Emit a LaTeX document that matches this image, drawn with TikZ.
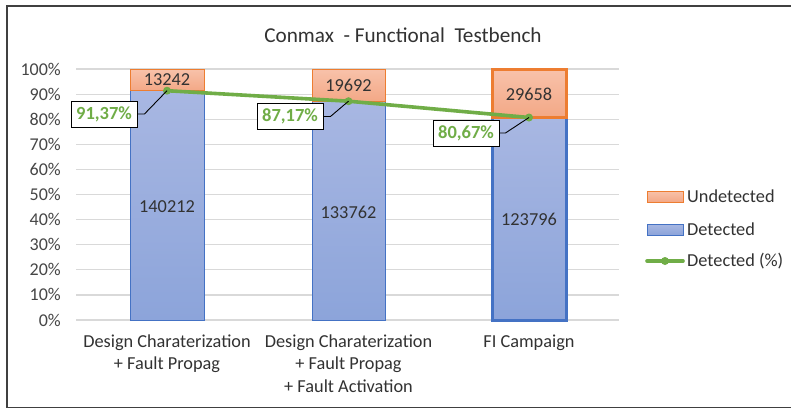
\documentclass[tikz,border=0pt]{standalone}
\usepackage{fontspec}
\setmainfont{Carlito}
\definecolor{undetline}{RGB}{237,125,49}
\definecolor{undettop}{RGB}{248,194,170}
\definecolor{undetbot}{RGB}{243,168,134}
\definecolor{detline}{RGB}{68,114,196}
\definecolor{dettop}{RGB}{168,183,226}
\definecolor{detbot}{RGB}{140,164,218}
\definecolor{ratecol}{RGB}{112,173,71}
\definecolor{gridcol}{RGB}{217,217,217}
\definecolor{txtcol}{RGB}{50,50,50}
\definecolor{axiscol}{RGB}{70,70,70}
\definecolor{framecol}{RGB}{64,64,64}
\begin{document}
\begin{tikzpicture}[x=1pt,y=-1pt,
  lbl/.style={font=\fontsize{18.3}{22.5}\selectfont, text=txtcol, inner sep=0pt},
  axislbl/.style={font=\fontsize{18}{22.5}\selectfont, text=axiscol, inner sep=0pt},
  undetbar/.style={draw=undetline, line width=1pt, top color=undettop, bottom color=undetbot},
  detbar/.style={draw=detline, line width=1pt, top color=dettop, bottom color=detbot},
  ratebox/.style={draw=black, line width=0.9pt, fill=white, font=\bfseries\fontsize{18.5}{20}\selectfont,
    text=ratecol, minimum width=66pt, minimum height=26pt, inner sep=0pt},
  leader/.style={draw=black, line width=0.9pt},
  rateline/.style={draw=ratecol, line width=3.6pt, line cap=round, line join=round},
  ratemark/.style={circle, fill=ratecol, minimum size=8pt, inner sep=0pt}]
\useasboundingbox (0,0) rectangle (791,410);
\fill[white] (0,0) rectangle (791,410);
% chart frame (right side runs past the page edge)
\draw[framecol, line width=1.6pt] (795,6) -- (7,6) -- (7,407.5) -- (795,407.5);

% title
\node[lbl, font=\fontsize{21.2}{24}\selectfont] (title) at (403,35) {Conmax\ \ - Functional\ \ Testbench};

% horizontal grid and value axis
\foreach \p in {0,10,...,100} {
  \draw[gridcol, line width=1.2pt] (76,{320-2.51*\p}) -- (619,{320-2.51*\p});
  \node[axislbl, anchor=east] (tick\p) at (61,{320-2.51*\p}) {\p\%};
}

% stacked bars
\draw[detbar] (130,320) rectangle (204,90.7);
\draw[undetbar] (130,90.7) rectangle (204,69);
\draw[detbar] (312,320) rectangle (385,101.2);
\draw[undetbar] (312,101.2) rectangle (385,69);
\draw[detbar, line width=3pt] (492,320) rectangle (566,117.5);
\draw[undetbar, line width=3pt] (492,117.5) rectangle (566,69);

% bar values
\node[lbl] (u1) at (167,80) {13242};
\node[lbl] (u2) at (348.5,85.5) {19692};
\node[lbl] (u3) at (529,94) {29658};
\node[lbl] (d1) at (167,207) {140212};
\node[lbl] (d2) at (348.5,212) {133762};
\node[lbl] (d3) at (529,219.5) {123796};

% detection rate line
\coordinate (p1) at (167,90.7);
\coordinate (p2) at (348.5,101.2);
\coordinate (p3) at (529,117.5);
\draw[rateline] (p1) -- (p2) -- (p3);
\foreach \i in {1,2,3} \node[ratemark] (m\i) at (p\i) {};

% rate labels with leaders
\node[ratebox] (r1) at (104,114) {91,37\%};
\node[ratebox] (r2) at (290,116.5) {87,17\%};
\node[ratebox] (r3) at (466,133) {80,67\%};
\draw[leader] (r1.east) -- ++(7,0) -- (m1.center);
\draw[leader] (r2.east) -- ++(7,0) -- (m2.center);
\draw[leader] (r3.east) -- ++(6,0) -- (m3.center);

% category labels
\node[lbl, align=center, anchor=north] (c1) at (167,334.5) {Design Charaterization\\+ Fault Propag};
\node[lbl, align=center, anchor=north] (c2) at (348.5,334.5) {Design Charaterization\\+ Fault Propag\\+ Fault Activation};
\node[lbl, anchor=north] (c3) at (529,334.5) {FI Campaign};

% legend
\draw[undetbar] (647,191) rectangle (683,202);
\node[lbl, anchor=west] (lg1) at (687,196.5) {Undetected};
\draw[detbar] (647,224) rectangle (683,235);
\node[lbl, anchor=west] (lg2) at (687,229.5) {Detected};
\coordinate (lga) at (647,261);
\coordinate (lgb) at (683,261);
\draw[rateline] (lga) -- (lgb);
\node[ratemark] (lgm) at (665,261) {};
\node[lbl, anchor=west] (lg3) at (687,261) {Detected (\%)};
\end{tikzpicture}
\end{document}
